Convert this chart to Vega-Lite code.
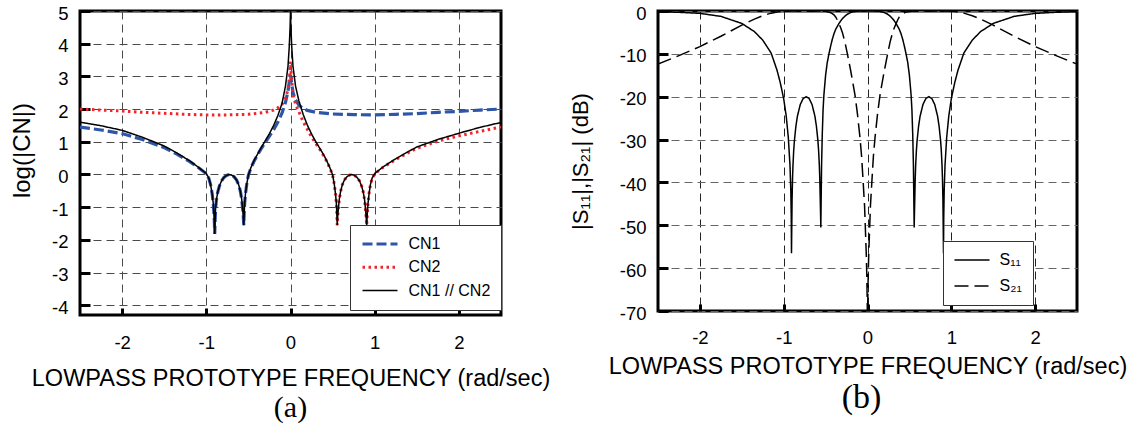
{
  "$schema": "https://vega.github.io/schema/vega-lite/v6.json",
  "background": "white",
  "padding": {"left": 8, "top": 2, "right": 0, "bottom": 0},
  "spacing": 157,
  "bounds": "flush",
  "config": {
    "font": "Liberation Sans",
    "view": {"stroke": "black", "strokeWidth": 3},
    "axis": {
      "domain": false,
      "grid": true,
      "gridDash": [8, 5],
      "gridColor": "#4a4a4a",
      "gridWidth": 1,
      "gridOpacity": 1,
      "tickColor": "black",
      "tickWidth": 3,
      "labelFont": "Liberation Sans",
      "labelColor": "black",
      "labelFontSize": 18.5,
      "labelExpr": "'' + datum.value",
      "titleFont": "Liberation Sans",
      "titleFontWeight": "normal",
      "titleColor": "black"
    },
    "axisX": {"tickSize": -7, "labelPadding": 25.6, "titleFontSize": 23.5, "titleBaseline": "alphabetic", "titleY": 70},
    "axisY": {"tickSize": -10, "labelPadding": 22, "labelOffset": 2},
    "legend": {
      "orient": "none",
      "title": null,
      "fillColor": "white",
      "strokeColor": "#333333",
      "symbolType": "stroke",
      "symbolSize": 1225,
      "clipHeight": 17,
      "labelFont": "Liberation Sans",
      "labelFontSize": 16,
      "labelColor": "black",
      "labelOffset": 9,
      "padding": 10.5,
      "rowPadding": 6.3
    },
    "title": {"font": "Liberation Serif", "fontWeight": "normal", "color": "black", "orient": "bottom", "frame": "group", "anchor": "middle"}
  },
  "datasets": {
    "cn": [
      {"x": -2.5, "v": 1.45, "series": "CN1"}, {"x": -2.25, "v": 1.36, "series": "CN1"}, {"x": -2.0, "v": 1.25, "series": "CN1"},
      {"x": -1.75, "v": 1.06, "series": "CN1"}, {"x": -1.5, "v": 0.82, "series": "CN1"}, {"x": -1.35, "v": 0.62, "series": "CN1"},
      {"x": -1.2, "v": 0.4, "series": "CN1"}, {"x": -1.1, "v": 0.22, "series": "CN1"}, {"x": -1.0, "v": 0.02, "series": "CN1"},
      {"x": -0.97, "v": -0.12, "series": "CN1"}, {"x": -0.95, "v": -0.3, "series": "CN1"}, {"x": -0.93, "v": -0.6, "series": "CN1"},
      {"x": -0.915, "v": -0.95, "series": "CN1"}, {"x": -0.905, "v": -1.4, "series": "CN1"}, {"x": -0.9, "v": -1.82, "series": "CN1"},
      {"x": -0.895, "v": -1.4, "series": "CN1"}, {"x": -0.89, "v": -1.05, "series": "CN1"}, {"x": -0.88, "v": -0.78, "series": "CN1"},
      {"x": -0.865, "v": -0.55, "series": "CN1"}, {"x": -0.845, "v": -0.36, "series": "CN1"}, {"x": -0.82, "v": -0.2, "series": "CN1"},
      {"x": -0.79, "v": -0.09, "series": "CN1"}, {"x": -0.76, "v": -0.03, "series": "CN1"}, {"x": -0.727, "v": 0.0, "series": "CN1"},
      {"x": -0.7, "v": -0.02, "series": "CN1"}, {"x": -0.67, "v": -0.07, "series": "CN1"}, {"x": -0.64, "v": -0.17, "series": "CN1"},
      {"x": -0.615, "v": -0.32, "series": "CN1"}, {"x": -0.595, "v": -0.52, "series": "CN1"}, {"x": -0.58, "v": -0.75, "series": "CN1"},
      {"x": -0.568, "v": -1.05, "series": "CN1"}, {"x": -0.56, "v": -1.3, "series": "CN1"}, {"x": -0.555, "v": -1.55, "series": "CN1"},
      {"x": -0.55, "v": -1.2, "series": "CN1"}, {"x": -0.545, "v": -0.9, "series": "CN1"}, {"x": -0.535, "v": -0.6, "series": "CN1"},
      {"x": -0.52, "v": -0.3, "series": "CN1"}, {"x": -0.5, "v": -0.02, "series": "CN1"}, {"x": -0.47, "v": 0.2, "series": "CN1"},
      {"x": -0.43, "v": 0.42, "series": "CN1"}, {"x": -0.4, "v": 0.56, "series": "CN1"}, {"x": -0.35, "v": 0.78, "series": "CN1"},
      {"x": -0.3, "v": 0.98, "series": "CN1"}, {"x": -0.25, "v": 1.17, "series": "CN1"}, {"x": -0.2, "v": 1.37, "series": "CN1"},
      {"x": -0.15, "v": 1.6, "series": "CN1"}, {"x": -0.1, "v": 1.88, "series": "CN1"}, {"x": -0.06, "v": 2.2, "series": "CN1"},
      {"x": -0.03, "v": 2.55, "series": "CN1"}, {"x": -0.01, "v": 2.9, "series": "CN1"}, {"x": 0.0, "v": 3.05, "series": "CN1"},
      {"x": 0.01, "v": 2.85, "series": "CN1"}, {"x": 0.03, "v": 2.5, "series": "CN1"}, {"x": 0.06, "v": 2.28, "series": "CN1"},
      {"x": 0.1, "v": 2.12, "series": "CN1"}, {"x": 0.15, "v": 2.02, "series": "CN1"}, {"x": 0.2, "v": 1.96, "series": "CN1"},
      {"x": 0.3, "v": 1.9, "series": "CN1"}, {"x": 0.5, "v": 1.85, "series": "CN1"}, {"x": 0.75, "v": 1.83, "series": "CN1"},
      {"x": 1.0, "v": 1.82, "series": "CN1"}, {"x": 1.25, "v": 1.84, "series": "CN1"}, {"x": 1.5, "v": 1.86, "series": "CN1"},
      {"x": 1.75, "v": 1.9, "series": "CN1"}, {"x": 2.0, "v": 1.93, "series": "CN1"}, {"x": 2.25, "v": 1.97, "series": "CN1"},
      {"x": 2.5, "v": 2.0, "series": "CN1"},

      {"x": -2.5, "v": 2.0, "series": "CN2"}, {"x": -2.25, "v": 1.97, "series": "CN2"}, {"x": -2.0, "v": 1.94, "series": "CN2"},
      {"x": -1.75, "v": 1.9, "series": "CN2"}, {"x": -1.5, "v": 1.87, "series": "CN2"}, {"x": -1.25, "v": 1.84, "series": "CN2"},
      {"x": -1.0, "v": 1.82, "series": "CN2"}, {"x": -0.75, "v": 1.82, "series": "CN2"}, {"x": -0.5, "v": 1.84, "series": "CN2"},
      {"x": -0.3, "v": 1.9, "series": "CN2"}, {"x": -0.2, "v": 1.97, "series": "CN2"}, {"x": -0.15, "v": 2.04, "series": "CN2"},
      {"x": -0.1, "v": 2.15, "series": "CN2"}, {"x": -0.06, "v": 2.32, "series": "CN2"}, {"x": -0.03, "v": 2.6, "series": "CN2"},
      {"x": -0.01, "v": 3.0, "series": "CN2"}, {"x": 0.0, "v": 3.45, "series": "CN2"}, {"x": 0.01, "v": 3.0, "series": "CN2"},
      {"x": 0.03, "v": 2.45, "series": "CN2"}, {"x": 0.06, "v": 2.15, "series": "CN2"}, {"x": 0.1, "v": 1.92, "series": "CN2"},
      {"x": 0.15, "v": 1.62, "series": "CN2"}, {"x": 0.2, "v": 1.38, "series": "CN2"}, {"x": 0.25, "v": 1.15, "series": "CN2"},
      {"x": 0.3, "v": 0.95, "series": "CN2"}, {"x": 0.35, "v": 0.76, "series": "CN2"}, {"x": 0.4, "v": 0.55, "series": "CN2"},
      {"x": 0.43, "v": 0.4, "series": "CN2"}, {"x": 0.47, "v": 0.18, "series": "CN2"}, {"x": 0.5, "v": -0.02, "series": "CN2"},
      {"x": 0.52, "v": -0.3, "series": "CN2"}, {"x": 0.535, "v": -0.6, "series": "CN2"}, {"x": 0.545, "v": -0.9, "series": "CN2"},
      {"x": 0.55, "v": -1.2, "series": "CN2"}, {"x": 0.555, "v": -1.55, "series": "CN2"}, {"x": 0.56, "v": -1.3, "series": "CN2"},
      {"x": 0.568, "v": -1.05, "series": "CN2"}, {"x": 0.58, "v": -0.75, "series": "CN2"}, {"x": 0.595, "v": -0.52, "series": "CN2"},
      {"x": 0.615, "v": -0.32, "series": "CN2"}, {"x": 0.64, "v": -0.17, "series": "CN2"}, {"x": 0.67, "v": -0.07, "series": "CN2"},
      {"x": 0.7, "v": -0.02, "series": "CN2"}, {"x": 0.727, "v": 0.0, "series": "CN2"}, {"x": 0.76, "v": -0.03, "series": "CN2"},
      {"x": 0.79, "v": -0.09, "series": "CN2"}, {"x": 0.82, "v": -0.2, "series": "CN2"}, {"x": 0.845, "v": -0.36, "series": "CN2"},
      {"x": 0.865, "v": -0.55, "series": "CN2"}, {"x": 0.88, "v": -0.78, "series": "CN2"}, {"x": 0.89, "v": -1.05, "series": "CN2"},
      {"x": 0.9, "v": -1.35, "series": "CN2"}, {"x": 0.905, "v": -1.55, "series": "CN2"}, {"x": 0.91, "v": -1.3, "series": "CN2"},
      {"x": 0.92, "v": -0.9, "series": "CN2"}, {"x": 0.935, "v": -0.55, "series": "CN2"}, {"x": 0.95, "v": -0.3, "series": "CN2"},
      {"x": 0.97, "v": -0.12, "series": "CN2"}, {"x": 1.0, "v": 0.02, "series": "CN2"}, {"x": 1.1, "v": 0.22, "series": "CN2"},
      {"x": 1.2, "v": 0.38, "series": "CN2"}, {"x": 1.35, "v": 0.6, "series": "CN2"}, {"x": 1.5, "v": 0.8, "series": "CN2"},
      {"x": 1.75, "v": 1.02, "series": "CN2"}, {"x": 2.0, "v": 1.18, "series": "CN2"}, {"x": 2.25, "v": 1.32, "series": "CN2"},
      {"x": 2.5, "v": 1.45, "series": "CN2"},

      {"x": -2.5, "v": 1.6, "series": "CN1 // CN2"}, {"x": -2.25, "v": 1.49, "series": "CN1 // CN2"}, {"x": -2.0, "v": 1.35, "series": "CN1 // CN2"},
      {"x": -1.75, "v": 1.13, "series": "CN1 // CN2"}, {"x": -1.5, "v": 0.87, "series": "CN1 // CN2"}, {"x": -1.35, "v": 0.66, "series": "CN1 // CN2"},
      {"x": -1.2, "v": 0.42, "series": "CN1 // CN2"}, {"x": -1.1, "v": 0.23, "series": "CN1 // CN2"}, {"x": -1.0, "v": 0.03, "series": "CN1 // CN2"},
      {"x": -0.97, "v": -0.11, "series": "CN1 // CN2"}, {"x": -0.95, "v": -0.3, "series": "CN1 // CN2"}, {"x": -0.93, "v": -0.6, "series": "CN1 // CN2"},
      {"x": -0.915, "v": -0.95, "series": "CN1 // CN2"}, {"x": -0.905, "v": -1.4, "series": "CN1 // CN2"}, {"x": -0.9, "v": -1.82, "series": "CN1 // CN2"},
      {"x": -0.895, "v": -1.4, "series": "CN1 // CN2"}, {"x": -0.89, "v": -1.05, "series": "CN1 // CN2"}, {"x": -0.88, "v": -0.78, "series": "CN1 // CN2"},
      {"x": -0.865, "v": -0.55, "series": "CN1 // CN2"}, {"x": -0.845, "v": -0.36, "series": "CN1 // CN2"}, {"x": -0.82, "v": -0.2, "series": "CN1 // CN2"},
      {"x": -0.79, "v": -0.09, "series": "CN1 // CN2"}, {"x": -0.76, "v": -0.03, "series": "CN1 // CN2"}, {"x": -0.727, "v": 0.0, "series": "CN1 // CN2"},
      {"x": -0.7, "v": -0.02, "series": "CN1 // CN2"}, {"x": -0.67, "v": -0.07, "series": "CN1 // CN2"}, {"x": -0.64, "v": -0.17, "series": "CN1 // CN2"},
      {"x": -0.615, "v": -0.32, "series": "CN1 // CN2"}, {"x": -0.595, "v": -0.52, "series": "CN1 // CN2"}, {"x": -0.58, "v": -0.75, "series": "CN1 // CN2"},
      {"x": -0.568, "v": -1.05, "series": "CN1 // CN2"}, {"x": -0.56, "v": -1.3, "series": "CN1 // CN2"}, {"x": -0.555, "v": -1.55, "series": "CN1 // CN2"},
      {"x": -0.55, "v": -1.2, "series": "CN1 // CN2"}, {"x": -0.545, "v": -0.9, "series": "CN1 // CN2"}, {"x": -0.535, "v": -0.6, "series": "CN1 // CN2"},
      {"x": -0.52, "v": -0.3, "series": "CN1 // CN2"}, {"x": -0.5, "v": -0.02, "series": "CN1 // CN2"}, {"x": -0.47, "v": 0.21, "series": "CN1 // CN2"},
      {"x": -0.43, "v": 0.44, "series": "CN1 // CN2"}, {"x": -0.4, "v": 0.58, "series": "CN1 // CN2"}, {"x": -0.35, "v": 0.81, "series": "CN1 // CN2"},
      {"x": -0.3, "v": 1.03, "series": "CN1 // CN2"}, {"x": -0.25, "v": 1.25, "series": "CN1 // CN2"}, {"x": -0.2, "v": 1.5, "series": "CN1 // CN2"},
      {"x": -0.15, "v": 1.8, "series": "CN1 // CN2"}, {"x": -0.1, "v": 2.18, "series": "CN1 // CN2"}, {"x": -0.06, "v": 2.7, "series": "CN1 // CN2"},
      {"x": -0.03, "v": 3.3, "series": "CN1 // CN2"}, {"x": -0.015, "v": 3.9, "series": "CN1 // CN2"}, {"x": -0.005, "v": 4.5, "series": "CN1 // CN2"},
      {"x": 0.0, "v": 5.0, "series": "CN1 // CN2"}, {"x": 0.005, "v": 4.5, "series": "CN1 // CN2"}, {"x": 0.015, "v": 3.9, "series": "CN1 // CN2"},
      {"x": 0.03, "v": 3.3, "series": "CN1 // CN2"}, {"x": 0.06, "v": 2.7, "series": "CN1 // CN2"}, {"x": 0.1, "v": 2.25, "series": "CN1 // CN2"},
      {"x": 0.15, "v": 1.84, "series": "CN1 // CN2"}, {"x": 0.2, "v": 1.51, "series": "CN1 // CN2"}, {"x": 0.25, "v": 1.24, "series": "CN1 // CN2"},
      {"x": 0.3, "v": 1.0, "series": "CN1 // CN2"}, {"x": 0.35, "v": 0.79, "series": "CN1 // CN2"}, {"x": 0.4, "v": 0.57, "series": "CN1 // CN2"},
      {"x": 0.43, "v": 0.42, "series": "CN1 // CN2"}, {"x": 0.47, "v": 0.19, "series": "CN1 // CN2"}, {"x": 0.5, "v": -0.01, "series": "CN1 // CN2"},
      {"x": 0.52, "v": -0.3, "series": "CN1 // CN2"}, {"x": 0.535, "v": -0.6, "series": "CN1 // CN2"}, {"x": 0.545, "v": -0.9, "series": "CN1 // CN2"},
      {"x": 0.55, "v": -1.2, "series": "CN1 // CN2"}, {"x": 0.555, "v": -1.55, "series": "CN1 // CN2"}, {"x": 0.56, "v": -1.3, "series": "CN1 // CN2"},
      {"x": 0.568, "v": -1.05, "series": "CN1 // CN2"}, {"x": 0.58, "v": -0.75, "series": "CN1 // CN2"}, {"x": 0.595, "v": -0.52, "series": "CN1 // CN2"},
      {"x": 0.615, "v": -0.32, "series": "CN1 // CN2"}, {"x": 0.64, "v": -0.17, "series": "CN1 // CN2"}, {"x": 0.67, "v": -0.07, "series": "CN1 // CN2"},
      {"x": 0.7, "v": -0.02, "series": "CN1 // CN2"}, {"x": 0.727, "v": 0.0, "series": "CN1 // CN2"}, {"x": 0.76, "v": -0.03, "series": "CN1 // CN2"},
      {"x": 0.79, "v": -0.09, "series": "CN1 // CN2"}, {"x": 0.82, "v": -0.2, "series": "CN1 // CN2"}, {"x": 0.845, "v": -0.36, "series": "CN1 // CN2"},
      {"x": 0.865, "v": -0.55, "series": "CN1 // CN2"}, {"x": 0.88, "v": -0.78, "series": "CN1 // CN2"}, {"x": 0.89, "v": -1.05, "series": "CN1 // CN2"},
      {"x": 0.9, "v": -1.35, "series": "CN1 // CN2"}, {"x": 0.905, "v": -1.55, "series": "CN1 // CN2"}, {"x": 0.91, "v": -1.3, "series": "CN1 // CN2"},
      {"x": 0.92, "v": -0.9, "series": "CN1 // CN2"}, {"x": 0.935, "v": -0.55, "series": "CN1 // CN2"}, {"x": 0.95, "v": -0.3, "series": "CN1 // CN2"},
      {"x": 0.97, "v": -0.11, "series": "CN1 // CN2"}, {"x": 1.0, "v": 0.03, "series": "CN1 // CN2"}, {"x": 1.1, "v": 0.23, "series": "CN1 // CN2"},
      {"x": 1.2, "v": 0.4, "series": "CN1 // CN2"}, {"x": 1.35, "v": 0.63, "series": "CN1 // CN2"}, {"x": 1.5, "v": 0.84, "series": "CN1 // CN2"},
      {"x": 1.75, "v": 1.07, "series": "CN1 // CN2"}, {"x": 2.0, "v": 1.26, "series": "CN1 // CN2"}, {"x": 2.25, "v": 1.44, "series": "CN1 // CN2"},
      {"x": 2.5, "v": 1.59, "series": "CN1 // CN2"}
    ],
    "sp": [
      {"x": -2.5, "db": -0.15, "param": "S₁₁"}, {"x": -2.25, "db": -0.3, "param": "S₁₁"}, {"x": -2.0, "db": -0.55, "param": "S₁₁"},
      {"x": -1.75, "db": -1.25, "param": "S₁₁"}, {"x": -1.5, "db": -2.9, "param": "S₁₁"}, {"x": -1.35, "db": -4.8, "param": "S₁₁"},
      {"x": -1.25, "db": -6.8, "param": "S₁₁"}, {"x": -1.15, "db": -9.8, "param": "S₁₁"}, {"x": -1.08, "db": -13.8, "param": "S₁₁"},
      {"x": -1.04, "db": -16.8, "param": "S₁₁"}, {"x": -1.0, "db": -20.5, "param": "S₁₁"}, {"x": -0.97, "db": -24.5, "param": "S₁₁"},
      {"x": -0.945, "db": -29.5, "param": "S₁₁"}, {"x": -0.925, "db": -36, "param": "S₁₁"}, {"x": -0.915, "db": -42, "param": "S₁₁"},
      {"x": -0.91, "db": -48, "param": "S₁₁"}, {"x": -0.907, "db": -56.5, "param": "S₁₁"}, {"x": -0.9035, "db": -50.1, "param": "S₁₁"},
      {"x": -0.9, "db": -44, "param": "S₁₁"}, {"x": -0.8948, "db": -39.2, "param": "S₁₁"}, {"x": -0.8895, "db": -36.1, "param": "S₁₁"},
      {"x": -0.8808, "db": -32.6, "param": "S₁₁"}, {"x": -0.872, "db": -30.2, "param": "S₁₁"}, {"x": -0.8545, "db": -26.9, "param": "S₁₁"},
      {"x": -0.837, "db": -24.6, "param": "S₁₁"}, {"x": -0.802, "db": -21.8, "param": "S₁₁"}, {"x": -0.767, "db": -20.4, "param": "S₁₁"},
      {"x": -0.732, "db": -20.0, "param": "S₁₁"}, {"x": -0.697, "db": -20.4, "param": "S₁₁"}, {"x": -0.662, "db": -21.8, "param": "S₁₁"},
      {"x": -0.627, "db": -24.6, "param": "S₁₁"}, {"x": -0.6095, "db": -26.9, "param": "S₁₁"}, {"x": -0.592, "db": -30.2, "param": "S₁₁"},
      {"x": -0.5833, "db": -32.6, "param": "S₁₁"}, {"x": -0.5745, "db": -36.1, "param": "S₁₁"}, {"x": -0.5693, "db": -39.2, "param": "S₁₁"},
      {"x": -0.564, "db": -44, "param": "S₁₁"}, {"x": -0.5605, "db": -47, "param": "S₁₁"}, {"x": -0.557, "db": -50.5, "param": "S₁₁"},
      {"x": -0.553, "db": -44, "param": "S₁₁"}, {"x": -0.548, "db": -36, "param": "S₁₁"}, {"x": -0.54, "db": -29, "param": "S₁₁"},
      {"x": -0.53, "db": -23, "param": "S₁₁"}, {"x": -0.52, "db": -19.5, "param": "S₁₁"}, {"x": -0.5, "db": -15, "param": "S₁₁"},
      {"x": -0.48, "db": -12, "param": "S₁₁"}, {"x": -0.46, "db": -10, "param": "S₁₁"}, {"x": -0.44, "db": -8.2, "param": "S₁₁"},
      {"x": -0.42, "db": -6.6, "param": "S₁₁"}, {"x": -0.4, "db": -5.3, "param": "S₁₁"}, {"x": -0.38, "db": -4.3, "param": "S₁₁"},
      {"x": -0.36, "db": -3.6, "param": "S₁₁"}, {"x": -0.34, "db": -2.9, "param": "S₁₁"}, {"x": -0.32, "db": -2.3, "param": "S₁₁"},
      {"x": -0.3, "db": -1.8, "param": "S₁₁"}, {"x": -0.27, "db": -1.2, "param": "S₁₁"}, {"x": -0.24, "db": -0.75, "param": "S₁₁"},
      {"x": -0.2, "db": -0.35, "param": "S₁₁"}, {"x": -0.15, "db": -0.1, "param": "S₁₁"}, {"x": -0.1, "db": -0.02, "param": "S₁₁"},
      {"x": 0.0, "db": 0.0, "param": "S₁₁"},
      {"x": 0.1, "db": -0.02, "param": "S₁₁"}, {"x": 0.15, "db": -0.1, "param": "S₁₁"}, {"x": 0.2, "db": -0.35, "param": "S₁₁"},
      {"x": 0.24, "db": -0.75, "param": "S₁₁"}, {"x": 0.27, "db": -1.2, "param": "S₁₁"}, {"x": 0.3, "db": -1.8, "param": "S₁₁"},
      {"x": 0.32, "db": -2.3, "param": "S₁₁"}, {"x": 0.34, "db": -2.9, "param": "S₁₁"}, {"x": 0.36, "db": -3.6, "param": "S₁₁"},
      {"x": 0.38, "db": -4.3, "param": "S₁₁"}, {"x": 0.4, "db": -5.3, "param": "S₁₁"}, {"x": 0.42, "db": -6.6, "param": "S₁₁"},
      {"x": 0.44, "db": -8.2, "param": "S₁₁"}, {"x": 0.46, "db": -10, "param": "S₁₁"}, {"x": 0.48, "db": -12, "param": "S₁₁"},
      {"x": 0.5, "db": -15, "param": "S₁₁"}, {"x": 0.52, "db": -19.5, "param": "S₁₁"}, {"x": 0.53, "db": -23, "param": "S₁₁"},
      {"x": 0.54, "db": -29, "param": "S₁₁"}, {"x": 0.548, "db": -36, "param": "S₁₁"}, {"x": 0.553, "db": -44, "param": "S₁₁"},
      {"x": 0.557, "db": -50.5, "param": "S₁₁"}, {"x": 0.5605, "db": -47, "param": "S₁₁"}, {"x": 0.564, "db": -44, "param": "S₁₁"},
      {"x": 0.5693, "db": -39.2, "param": "S₁₁"}, {"x": 0.5745, "db": -36.1, "param": "S₁₁"}, {"x": 0.5833, "db": -32.6, "param": "S₁₁"},
      {"x": 0.592, "db": -30.2, "param": "S₁₁"}, {"x": 0.6095, "db": -26.9, "param": "S₁₁"}, {"x": 0.627, "db": -24.6, "param": "S₁₁"},
      {"x": 0.662, "db": -21.8, "param": "S₁₁"}, {"x": 0.697, "db": -20.4, "param": "S₁₁"}, {"x": 0.732, "db": -20.0, "param": "S₁₁"},
      {"x": 0.767, "db": -20.4, "param": "S₁₁"}, {"x": 0.802, "db": -21.8, "param": "S₁₁"}, {"x": 0.837, "db": -24.6, "param": "S₁₁"},
      {"x": 0.8545, "db": -26.9, "param": "S₁₁"}, {"x": 0.872, "db": -30.2, "param": "S₁₁"}, {"x": 0.8808, "db": -32.6, "param": "S₁₁"},
      {"x": 0.8895, "db": -36.1, "param": "S₁₁"}, {"x": 0.8948, "db": -39.2, "param": "S₁₁"}, {"x": 0.9, "db": -44, "param": "S₁₁"},
      {"x": 0.9035, "db": -50.1, "param": "S₁₁"}, {"x": 0.907, "db": -56.5, "param": "S₁₁"}, {"x": 0.91, "db": -48, "param": "S₁₁"},
      {"x": 0.915, "db": -42, "param": "S₁₁"}, {"x": 0.925, "db": -36, "param": "S₁₁"}, {"x": 0.945, "db": -29.5, "param": "S₁₁"},
      {"x": 0.97, "db": -24.5, "param": "S₁₁"}, {"x": 1.0, "db": -20.5, "param": "S₁₁"}, {"x": 1.04, "db": -16.8, "param": "S₁₁"},
      {"x": 1.08, "db": -13.8, "param": "S₁₁"}, {"x": 1.15, "db": -9.8, "param": "S₁₁"}, {"x": 1.25, "db": -6.8, "param": "S₁₁"},
      {"x": 1.35, "db": -4.8, "param": "S₁₁"}, {"x": 1.5, "db": -2.9, "param": "S₁₁"}, {"x": 1.75, "db": -1.25, "param": "S₁₁"},
      {"x": 2.0, "db": -0.55, "param": "S₁₁"}, {"x": 2.25, "db": -0.3, "param": "S₁₁"}, {"x": 2.5, "db": -0.15, "param": "S₁₁"},

      {"x": -2.5, "db": -12.4, "param": "S₂₁"}, {"x": -2.25, "db": -10.4, "param": "S₂₁"}, {"x": -2.0, "db": -8.3, "param": "S₂₁"},
      {"x": -1.75, "db": -5.9, "param": "S₂₁"}, {"x": -1.5, "db": -3.3, "param": "S₂₁"}, {"x": -1.35, "db": -1.9, "param": "S₂₁"},
      {"x": -1.25, "db": -1.1, "param": "S₂₁"}, {"x": -1.15, "db": -0.5, "param": "S₂₁"}, {"x": -1.05, "db": -0.12, "param": "S₂₁"},
      {"x": -1.0, "db": -0.05, "param": "S₂₁"}, {"x": -0.9, "db": 0.0, "param": "S₂₁"}, {"x": -0.73, "db": -0.04, "param": "S₂₁"},
      {"x": -0.55, "db": 0.0, "param": "S₂₁"}, {"x": -0.5, "db": -0.12, "param": "S₂₁"}, {"x": -0.45, "db": -0.3, "param": "S₂₁"},
      {"x": -0.42, "db": -0.6, "param": "S₂₁"}, {"x": -0.4, "db": -0.9, "param": "S₂₁"}, {"x": -0.38, "db": -1.4, "param": "S₂₁"},
      {"x": -0.36, "db": -2.1, "param": "S₂₁"}, {"x": -0.34, "db": -3.0, "param": "S₂₁"}, {"x": -0.32, "db": -3.9, "param": "S₂₁"},
      {"x": -0.3, "db": -5.0, "param": "S₂₁"}, {"x": -0.27, "db": -7.2, "param": "S₂₁"}, {"x": -0.24, "db": -10, "param": "S₂₁"},
      {"x": -0.2, "db": -14, "param": "S₂₁"}, {"x": -0.15, "db": -19.5, "param": "S₂₁"}, {"x": -0.12, "db": -24, "param": "S₂₁"},
      {"x": -0.09, "db": -29.5, "param": "S₂₁"}, {"x": -0.07, "db": -34, "param": "S₂₁"}, {"x": -0.05, "db": -40.5, "param": "S₂₁"},
      {"x": -0.035, "db": -45.5, "param": "S₂₁"}, {"x": -0.025, "db": -51, "param": "S₂₁"}, {"x": -0.015, "db": -56.5, "param": "S₂₁"},
      {"x": -0.008, "db": -62, "param": "S₂₁"}, {"x": -0.003, "db": -68, "param": "S₂₁"}, {"x": 0.0, "db": -78, "param": "S₂₁"},
      {"x": 0.003, "db": -68, "param": "S₂₁"}, {"x": 0.008, "db": -62, "param": "S₂₁"}, {"x": 0.015, "db": -56.5, "param": "S₂₁"},
      {"x": 0.025, "db": -51, "param": "S₂₁"}, {"x": 0.035, "db": -45.5, "param": "S₂₁"}, {"x": 0.05, "db": -40.5, "param": "S₂₁"},
      {"x": 0.07, "db": -34, "param": "S₂₁"}, {"x": 0.09, "db": -29.5, "param": "S₂₁"}, {"x": 0.12, "db": -24, "param": "S₂₁"},
      {"x": 0.15, "db": -19.5, "param": "S₂₁"}, {"x": 0.2, "db": -14, "param": "S₂₁"}, {"x": 0.24, "db": -10, "param": "S₂₁"},
      {"x": 0.27, "db": -7.2, "param": "S₂₁"}, {"x": 0.3, "db": -5.0, "param": "S₂₁"}, {"x": 0.32, "db": -3.9, "param": "S₂₁"},
      {"x": 0.34, "db": -3.0, "param": "S₂₁"}, {"x": 0.36, "db": -2.1, "param": "S₂₁"}, {"x": 0.38, "db": -1.4, "param": "S₂₁"},
      {"x": 0.4, "db": -0.9, "param": "S₂₁"}, {"x": 0.42, "db": -0.6, "param": "S₂₁"}, {"x": 0.45, "db": -0.3, "param": "S₂₁"},
      {"x": 0.5, "db": -0.12, "param": "S₂₁"}, {"x": 0.55, "db": 0.0, "param": "S₂₁"}, {"x": 0.73, "db": -0.04, "param": "S₂₁"},
      {"x": 0.9, "db": 0.0, "param": "S₂₁"}, {"x": 1.0, "db": -0.05, "param": "S₂₁"}, {"x": 1.05, "db": -0.12, "param": "S₂₁"},
      {"x": 1.15, "db": -0.5, "param": "S₂₁"}, {"x": 1.25, "db": -1.1, "param": "S₂₁"}, {"x": 1.35, "db": -1.9, "param": "S₂₁"},
      {"x": 1.5, "db": -3.3, "param": "S₂₁"}, {"x": 1.75, "db": -5.9, "param": "S₂₁"}, {"x": 2.0, "db": -8.3, "param": "S₂₁"},
      {"x": 2.25, "db": -10.4, "param": "S₂₁"}, {"x": 2.5, "db": -12.4, "param": "S₂₁"}
    ]
  },
  "resolve": {
    "scale": {"color": "independent", "strokeDash": "independent", "strokeWidth": "independent"},
    "legend": {"color": "independent", "strokeDash": "independent", "strokeWidth": "independent"}
  },
  "hconcat": [
    {
      "width": 421,
      "height": 304,
      "title": {"text": "(a)", "fontSize": 30, "offset": 3},
      "data": {"name": "cn"},
      "mark": {"type": "line", "clip": true},
      "encoding": {
        "x": {
          "field": "x", "type": "quantitative",
          "scale": {"domain": [-2.5, 2.5], "nice": false, "zero": false},
          "axis": {"values": [-2, -1, 0, 1, 2], "title": "LOWPASS PROTOTYPE FREQUENCY (rad/sec)"}
        },
        "y": {
          "field": "v", "type": "quantitative",
          "scale": {"domain": [-4.3, 5], "nice": false, "zero": false},
          "axis": {"values": [-4, -3, -2, -1, 0, 1, 2, 3, 4, 5], "title": "log(|CN|)", "titleFontSize": 24, "titleY": 139, "titleX": -58, "titleBaseline": "middle", "titleAlign": "center", "titleAngle": -90}
        },
        "color": {
          "field": "series", "type": "nominal",
          "scale": {"type": "ordinal", "domain": ["CN1", "CN2", "CN1 // CN2"], "range": ["#2f55a8", "#f2252a", "#000000"]},
          "legend": {"legendX": 270, "legendY": 214}
        },
        "strokeDash": {
          "field": "series", "type": "nominal",
          "scale": {"type": "ordinal", "domain": ["CN1", "CN2", "CN1 // CN2"], "range": [[10, 4], [2.5, 3.5], [1, 0]]},
          "legend": {"legendX": 270, "legendY": 214}
        },
        "strokeWidth": {
          "field": "series", "type": "nominal",
          "scale": {"type": "ordinal", "domain": ["CN1", "CN2", "CN1 // CN2"], "range": [3.2, 3, 1.5]},
          "legend": {"legendX": 270, "legendY": 214}
        }
      }
    },
    {
      "width": 419,
      "height": 300,
      "title": {"text": "(b)", "fontSize": 34, "offset": 3, "dx": -6},
      "data": {"name": "sp"},
      "mark": {"type": "line", "clip": true, "color": "black", "strokeWidth": 1.5},
      "encoding": {
        "x": {
          "field": "x", "type": "quantitative",
          "scale": {"domain": [-2.5, 2.5], "nice": false, "zero": false},
          "axis": {"values": [-2, -1, 0, 1, 2], "title": "LOWPASS PROTOTYPE FREQUENCY (rad/sec)", "gridColor": "#222222", "labelPadding": 24.6, "titleY": 62}
        },
        "y": {
          "field": "db", "type": "quantitative",
          "scale": {"domain": [-70, 0], "nice": false, "zero": false},
          "axis": {"values": [-70, -60, -50, -40, -30, -20, -10, 0], "title": "|S₁₁|,|S₂₁| (dB)", "titleFontSize": 22, "titleX": -78, "titleBaseline": "middle", "titleAlign": "center", "titleAngle": -90, "gridColor": "#666666"}
        },
        "strokeDash": {
          "field": "param", "type": "nominal",
          "scale": {"type": "ordinal", "domain": ["S₁₁", "S₂₁"], "range": [[1, 0], [14, 6]]},
          "legend": {"legendX": 285, "legendY": 230, "rowPadding": 9, "symbolStrokeWidth": 1.5, "symbolStrokeColor": "black"}
        }
      }
    }
  ]
}
